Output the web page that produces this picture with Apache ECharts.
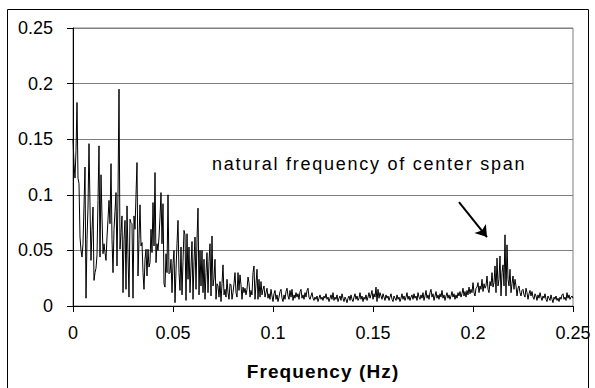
<!DOCTYPE html>
<html>
<head>
<meta charset="utf-8">
<script src="https://cdn.jsdelivr.net/npm/echarts@6/dist/echarts.min.js"></script>
<style>html,body{margin:0;padding:0;background:#fff}#c{width:595px;height:388px}</style>
</head>
<body>
<div id="c"></div>
<script>
// Frequency resolution of the spectrum (Hz per sample), first sample at 0 Hz
const STEP_HZ = 0.0005;
// Spectrum amplitudes, one per frequency step
const amps = [
0.150,0.128,0.115,0.140,0.183,0.115,0.110,0.062,0.050,0.044,0.056,0.090,0.125,0.007,0.060,0.089,0.146,0.090,0.041,0.068,
0.089,0.023,0.030,0.034,0.046,0.095,0.144,0.044,0.118,0.080,0.047,0.056,0.048,0.041,0.062,0.078,0.095,0.074,0.128,0.060,
0.030,0.069,0.085,0.102,0.036,0.101,0.195,0.051,0.066,0.081,0.012,0.060,0.077,0.015,0.090,0.045,0.008,0.078,0.075,0.074,
0.007,0.081,0.069,0.100,0.129,0.027,0.060,0.091,0.054,0.057,0.030,0.015,0.042,0.051,0.027,0.051,0.035,0.039,0.069,0.048,
0.093,0.054,0.120,0.039,0.056,0.050,0.062,0.080,0.102,0.056,0.092,0.020,0.017,0.047,0.030,0.100,0.029,0.030,0.042,0.012,
0.038,0.050,0.003,0.032,0.056,0.077,0.030,0.014,0.053,0.010,0.040,0.068,0.064,0.005,0.065,0.024,0.053,0.012,0.035,0.058,
0.006,0.040,0.062,0.015,0.060,0.088,0.010,0.050,0.018,0.050,0.012,0.042,0.006,0.030,0.048,0.012,0.040,0.056,0.009,0.063,
0.018,0.025,0.042,0.006,0.020,0.018,0.008,0.022,0.004,0.020,0.037,0.010,0.015,0.008,0.024,0.012,0.006,0.020,0.019,0.006,
0.012,0.020,0.030,0.012,0.008,0.030,0.014,0.028,0.019,0.006,0.017,0.012,0.016,0.010,0.015,0.026,0.021,0.008,0.014,0.010,
0.030,0.036,0.006,0.020,0.033,0.006,0.024,0.008,0.022,0.010,0.015,0.018,0.008,0.012,0.016,0.007,0.011,0.006,0.015,0.009,
0.004,0.011,0.014,0.006,0.010,0.004,0.008,0.013,0.015,0.007,0.004,0.010,0.006,0.013,0.016,0.009,0.006,0.014,0.008,0.015,
0.005,0.010,0.007,0.012,0.008,0.011,0.006,0.013,0.015,0.007,0.010,0.006,0.012,0.008,0.014,0.016,0.008,0.006,0.009,0.012,
0.007,0.005,0.008,0.006,0.009,0.004,0.007,0.010,0.006,0.008,0.005,0.009,0.007,0.011,0.006,0.008,0.004,0.007,0.010,0.006,
0.012,0.005,0.008,0.006,0.010,0.004,0.007,0.009,0.005,0.011,0.007,0.004,0.008,0.006,0.003,0.007,0.009,0.005,0.010,0.006,
0.004,0.008,0.011,0.006,0.009,0.005,0.007,0.012,0.006,0.009,0.004,0.008,0.006,0.010,0.005,0.008,0.012,0.007,0.010,0.014,
0.006,0.011,0.008,0.017,0.004,0.015,0.007,0.012,0.009,0.006,0.011,0.008,0.005,0.010,0.007,0.009,0.005,0.008,0.011,0.006,
0.004,0.009,0.007,0.005,0.010,0.006,0.008,0.004,0.007,0.011,0.006,0.009,0.005,0.008,0.012,0.006,0.009,0.005,0.008,0.010,
0.006,0.011,0.007,0.009,0.005,0.012,0.008,0.006,0.010,0.007,0.012,0.005,0.009,0.014,0.007,0.010,0.006,0.012,0.015,0.008,
0.011,0.005,0.009,0.013,0.007,0.010,0.006,0.011,0.008,0.014,0.007,0.010,0.005,0.009,0.012,0.007,0.010,0.006,0.009,0.013,
0.008,0.011,0.006,0.010,0.007,0.012,0.009,0.013,0.008,0.011,0.016,0.009,0.013,0.008,0.014,0.010,0.017,0.011,0.015,0.012,
0.021,0.012,0.009,0.016,0.017,0.021,0.012,0.018,0.015,0.024,0.013,0.020,0.016,0.018,0.027,0.015,0.012,0.022,0.018,0.030,
0.017,0.021,0.036,0.012,0.043,0.018,0.024,0.045,0.009,0.030,0.037,0.018,0.064,0.009,0.055,0.024,0.018,0.033,0.012,0.020,
0.027,0.015,0.024,0.018,0.009,0.016,0.018,0.012,0.009,0.014,0.015,0.010,0.008,0.016,0.012,0.006,0.011,0.014,0.009,0.013,
0.008,0.006,0.011,0.009,0.005,0.010,0.007,0.012,0.008,0.005,0.009,0.007,0.011,0.006,0.004,0.009,0.007,0.005,0.010,0.006,
0.003,0.008,0.006,0.009,0.005,0.007,0.004,0.008,0.006,0.010,0.011,0.006,0.008,0.005,0.012,0.007,0.010,0.006,0.008,0.009,
0.007
];
// Axis ticks
const xTicks = [0, 0.05, 0.1, 0.15, 0.2, 0.25];
const yTicks = [0, 0.05, 0.1, 0.15, 0.2, 0.25];
const xAxisName = 'Frequency (Hz)';
const annotationText = 'natural frequency of center span';
// Arrow (data coordinates: [Hz, amplitude])
const arrowFrom = [0.193, 0.0935];
const arrowTo = [0.207, 0.062];

const data = amps.map((v, i) => [+(i * STEP_HZ).toFixed(4), v]);
const FONT = 'Liberation Sans, Arial, sans-serif';

const chart = echarts.init(document.getElementById('c'), null, {renderer: 'svg'});
chart.setOption({
  animation: false,
  backgroundColor: '#fff',
  grid: {left: 73, right: 22, top: 28, bottom: 82, show: true, borderColor: '#808080', borderWidth: 1,
         containLabel: false, outerBoundsMode: 'none'},
  xAxis: {
    type: 'value', min: xTicks[0], max: xTicks[xTicks.length - 1], interval: xTicks[1] - xTicks[0],
    name: xAxisName, nameLocation: 'middle', nameGap: 56,
    nameTextStyle: {fontFamily: FONT, fontSize: 19, fontWeight: 'bold', color: '#000'},
    axisLine: {show: true, onZero: false, lineStyle: {color: '#000', width: 1}},
    axisTick: {show: true, length: 6, inside: false, lineStyle: {color: '#000'}},
    axisLabel: {fontFamily: FONT, fontSize: 18, color: '#000', margin: 18},
    splitLine: {show: false}
  },
  yAxis: {
    type: 'value', min: yTicks[0], max: yTicks[yTicks.length - 1], interval: yTicks[1] - yTicks[0],
    axisLine: {show: true, lineStyle: {color: '#000', width: 1}},
    axisTick: {show: true, length: 6, inside: false, lineStyle: {color: '#000'}},
    axisLabel: {fontFamily: FONT, fontSize: 18, color: '#000', margin: 20},
    splitLine: {show: true, lineStyle: {color: '#808080', width: 1}}
  },
  series: [{
    type: 'line', data: data, showSymbol: false, symbol: 'none',
    lineStyle: {color: '#000', width: 1}, silent: true,
    markLine: {
      silent: true, symbol: ['none', 'arrow'], symbolSize: 11,
      label: {show: false},
      lineStyle: {color: '#000', width: 2, type: 'solid'},
      data: [[{coord: arrowFrom}, {coord: arrowTo}]]
    }
  }],
  graphic: [
    {type: 'rect', shape: {x: 7.5, y: 9.5, width: 581, height: 381}, style: {fill: 'none', stroke: '#000', lineWidth: 1}, silent: true},
    {type: 'text', x: 212, y: 164, style: {text: annotationText, font: '18px ' + FONT, fill: '#000', verticalAlign: 'middle', align: 'left'}, silent: true}
  ]
});
// Reference text is set with slightly wider letter spacing
document.querySelectorAll('#c svg text').forEach(function (t) {
  if (t.textContent === annotationText) t.style.letterSpacing = '1.75px';
  if (t.textContent === xAxisName) t.style.letterSpacing = '1.1px';
});
</script>
</body>
</html>
